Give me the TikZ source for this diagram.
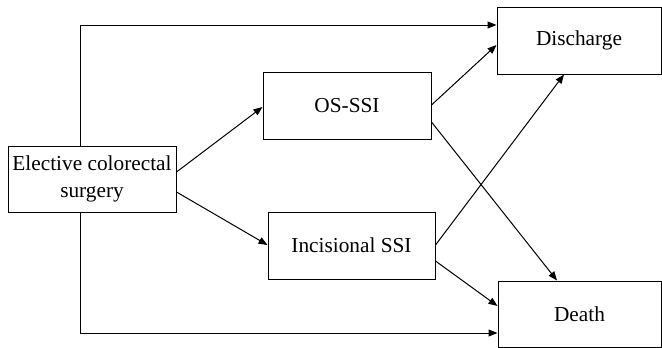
\documentclass[tikz,border=0pt]{standalone}
\usepackage{fontspec}
\setmainfont{Liberation Serif}
\usetikzlibrary{arrows.meta}
\begin{document}
\begin{tikzpicture}[x=1pt,y=-1pt,
  box/.style={draw, line width=1pt, inner sep=0pt, align=center,
    font=\fontsize{21.3}{27}\selectfont},
  link/.style={line width=1pt, -{Triangle[length=9pt,width=7pt]}}]
\useasboundingbox (0,0) rectangle (662,348);
% boxes: states
\node[box, minimum width=168pt, minimum height=66pt] (E) at (92,179) {Elective colorectal\\surgery};
\node[box, minimum width=168pt, minimum height=67pt] (O) at (347,105.5) {OS-SSI};
\node[box, minimum width=167pt, minimum height=67pt] (I) at (351.5,245.5) {Incisional SSI};
\node[box, minimum width=164pt, minimum height=67pt] (Dc) at (579,40.5) {Discharge};
\node[box, minimum width=163pt, minimum height=66pt] (Dt) at (579.5,314) {Death};
% direct transitions around the intermediate states
\draw[link] (E.north -| 80.7,0) -- (80.7,25) -- (Dc.west |- 0,25);
\draw[link] (E.south -| 80.7,0) -- (80.7,333) -- (Dt.west |- 0,333);
% transitions into the infection states
\draw[link] (E.east |- 0,172) -- (O.west |- 0,107);
\draw[link] (E.east |- 0,192) -- (I.west |- 0,245);
% transitions out of the infection states
\draw[link] (O.east |- 0,105) -- (Dc.west |- 0,45);
\draw[link] (O.east |- 0,122) -- (Dt.north -| 557,0);
\draw[link] (I.east |- 0,245) -- (Dc.south -| 564,0);
\draw[link] (I.east |- 0,261) -- (Dt.west |- 0,306);
\end{tikzpicture}
\end{document}
